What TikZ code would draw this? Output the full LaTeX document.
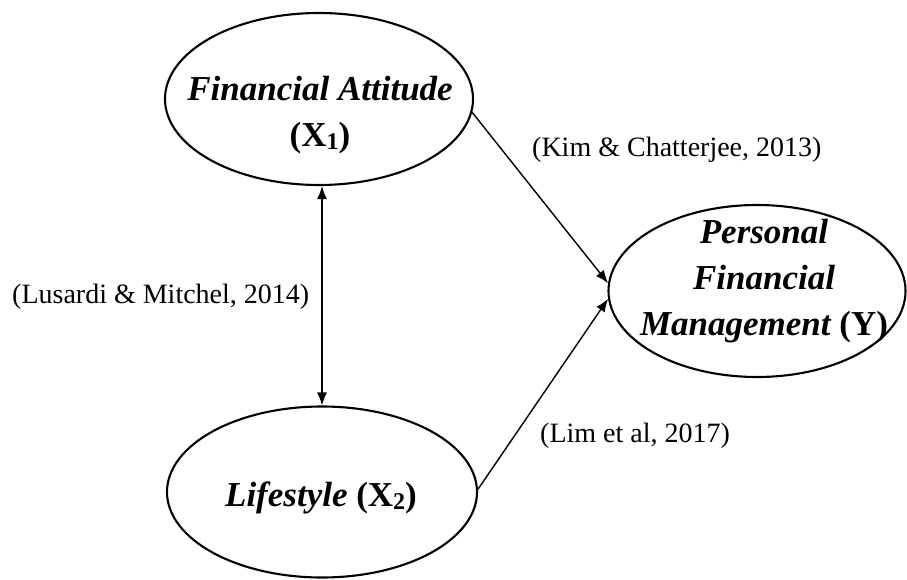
\documentclass[tikz,border=0pt]{standalone}
\usepackage{fontspec}
\setmainfont{Liberation Serif}
\usetikzlibrary{shapes.geometric,arrows.meta}
\newcommand{\sbx}[1]{{\fontsize{24}{24}\selectfont\raisebox{-3pt}{#1}}}
\tikzset{
  oval/.style={ellipse, draw, line width=2.1pt, inner sep=0pt},
  bigtext/.style={font=\fontsize{35}{46}\selectfont\bfseries\itshape, align=center, inner sep=0pt, anchor=base},
  reftext/.style={font=\fontsize{28}{34}\selectfont, inner sep=0pt, anchor=base west},
  arr/.style={line width=1.4pt, -{Latex[length=13pt,width=10pt]}},
  darr/.style={line width=1.4pt, {Latex[length=13pt,width=10pt]}-{Latex[length=13pt,width=10pt]}}
}
\begin{document}
\begin{tikzpicture}[x=1pt,y=-1pt]
\useasboundingbox (0,0) rectangle (907,580);
\node[oval, minimum width=308pt, minimum height=172pt] (fa) at (319,99) {};
\node[oval, minimum width=310pt, minimum height=171pt] (ls) at (322,492) {};
\node[oval, minimum width=297pt, minimum height=172pt] (pfm) at (757,291) {};
\node[bigtext] (tfa) at (320,147) {Financial Attitude\\{\upshape(X\sbx{1})}};
\node[bigtext] (tls) at (321,506) {Lifestyle {\upshape(X\sbx{2})}};
\node[bigtext] (tpfm) at (764,335) {Personal\\Financial\\Management {\upshape(Y)}};
\node[reftext] (kim) at (532,157) {(Kim \& Chatterjee, 2013)};
\node[reftext] (lus) at (12,303) {(Lusardi \& Mitchel, 2014)};
\node[reftext] (lim) at (540,442) {(Lim et al, 2017)};
\draw[darr] (ls.north |- fa.south) -- (ls.north);
\draw[arr] (fa.-5) -- (pfm.177);
\draw[arr] (ls.1) -- (pfm.183);
\end{tikzpicture}
\end{document}
